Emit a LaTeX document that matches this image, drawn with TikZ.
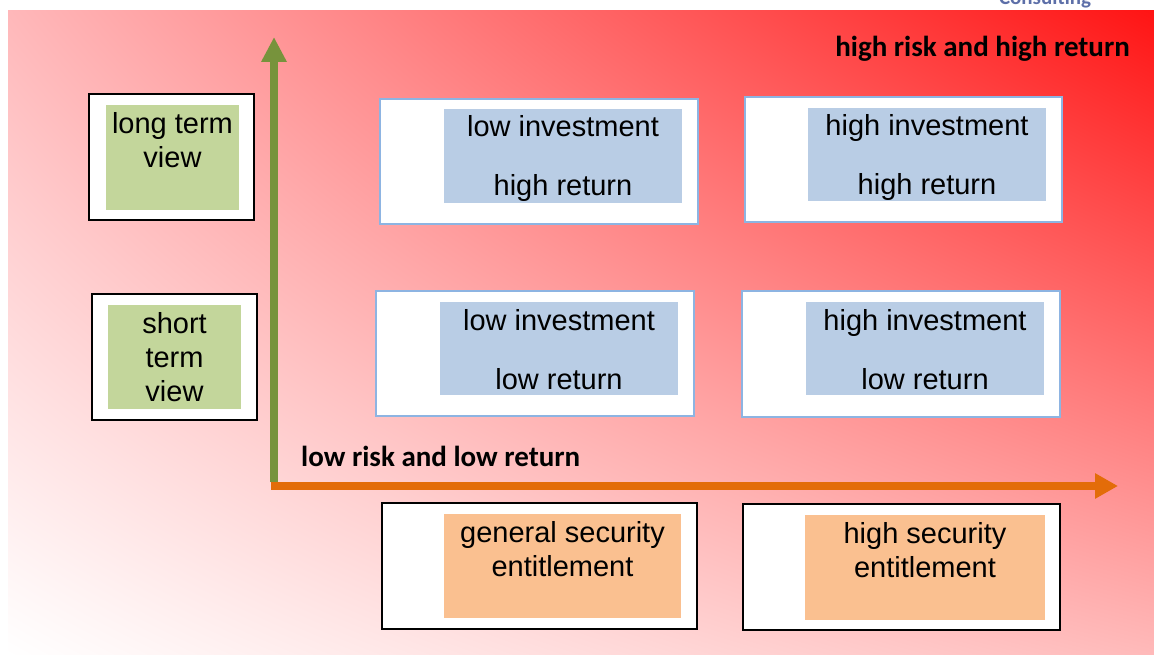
\documentclass[tikz,border=0pt]{standalone}
\usepackage{fontspec}
\setmainfont{Liberation Sans}
\newfontfamily\labelfont{Carlito}
\usetikzlibrary{arrows.meta,shadings}
\definecolor{axisgreen}{HTML}{77933C}
\definecolor{axisorange}{HTML}{E36C09}
\definecolor{viewfill}{HTML}{C3D69B}
\definecolor{investfill}{HTML}{B9CDE5}
\definecolor{investedge}{HTML}{8DB4E2}
\definecolor{securefill}{HTML}{FAC090}
\definecolor{brandblue}{HTML}{5D6FA8}
\definecolor{bgtl}{HTML}{FFB8BA}
\definecolor{bgtr}{HTML}{FF1414}
\definecolor{bgbr}{HTML}{FFBABA}
\begin{document}
\begin{tikzpicture}[x=1pt,y=-1pt,
  boxtext/.style={font=\fontsize{29}{34}\selectfont, align=center, inner sep=0pt, anchor=base},
  framebox/.style={draw=black, line width=2pt, fill=white, inner sep=0pt},
  bluebox/.style={draw=investedge, line width=2pt, fill=white, inner sep=0pt},
  fillbox/.style={inner sep=0pt, draw=none},
  axislabel/.style={font=\labelfont\bfseries\fontsize{29}{34}\selectfont, inner sep=0pt},
  greenaxis/.style={draw=axisgreen, line width=8pt, -{Triangle[length=25pt,width=24pt]}},
  orangeaxis/.style={draw=axisorange, line width=8pt, -{Triangle[length=23pt,width=24pt]}}]
\useasboundingbox (0,0) rectangle (1154,655);
\clip (0,0) rectangle (1154,655);

% page header word, mostly cut off at the top edge
\node[font=\labelfont\bfseries\fontsize{21}{24}\selectfont, text=brandblue, anchor=base, inner sep=0pt] (brand) at (1045,5) {Consulting};

% diagonal white-to-red backdrop
\shade[lower left=white, upper right=bgtr, upper left=bgtl, lower right=bgbr]
  (8,11) rectangle (1154,655);

% time-horizon boxes on the left (multi-line texts are placed by their last baseline)
\node[framebox, minimum width=165pt, minimum height=126pt] (longout) at (171.5,157) {};
\node[fillbox, fill=viewfill, minimum width=133pt, minimum height=105pt] (longin) at (172.5,157.5) {};
\node[boxtext] (longtxt) at (172.5,168) {long term\\view};

\node[framebox, minimum width=165pt, minimum height=126pt] (shortout) at (174.5,357) {};
\node[fillbox, fill=viewfill, minimum width=133pt, minimum height=104pt] (shortin) at (174.5,357) {};
\node[boxtext] (shorttxt) at (174.5,401) {short\\term\\view};

% investment / return quadrants
\node[bluebox, minimum width=318pt, minimum height=125pt] (q1out) at (539,161.5) {};
\node[fillbox, fill=investfill, minimum width=238pt, minimum height=94pt] (q1in) at (563,156) {};
\node[boxtext] (q1a) at (563,137) {low investment};
\node[boxtext] (q1b) at (563,196) {high return};

\node[bluebox, minimum width=317pt, minimum height=125pt] (q2out) at (903.5,159.5) {};
\node[fillbox, fill=investfill, minimum width=238pt, minimum height=93pt] (q2in) at (927,154.5) {};
\node[boxtext] (q2a) at (927,136) {high investment};
\node[boxtext] (q2b) at (927,195) {high return};

\node[bluebox, minimum width=318pt, minimum height=125pt] (q3out) at (535,353.5) {};
\node[fillbox, fill=investfill, minimum width=238pt, minimum height=93pt] (q3in) at (559,348.5) {};
\node[boxtext] (q3a) at (559,330) {low investment};
\node[boxtext] (q3b) at (559,389) {low return};

\node[bluebox, minimum width=318pt, minimum height=126pt] (q4out) at (901,354) {};
\node[fillbox, fill=investfill, minimum width=238pt, minimum height=93pt] (q4in) at (925,348.5) {};
\node[boxtext] (q4a) at (925,330) {high investment};
\node[boxtext] (q4b) at (925,389) {low return};

% security entitlement boxes below the axis
\node[framebox, minimum width=315pt, minimum height=126pt] (s1out) at (539.5,566) {};
\node[fillbox, fill=securefill, minimum width=237pt, minimum height=104pt] (s1in) at (562.5,566) {};
\node[boxtext] (s1txt) at (562.5,576) {general security\\entitlement};

\node[framebox, minimum width=317pt, minimum height=126pt] (s2out) at (901.5,567) {};
\node[fillbox, fill=securefill, minimum width=240pt, minimum height=105pt] (s2in) at (925,567.5) {};
\node[boxtext] (s2txt) at (925,577) {high security\\entitlement};

% axes
\coordinate (vbase) at (274,482);
\coordinate (vtip) at (274,37);
\coordinate (hbase) at (270.5,486);
\coordinate (htip) at (1118,486);
\draw[greenaxis] (vbase) -- (vtip);
\draw[orangeaxis] (hbase) -- (htip);

% corner labels
\node[axislabel, anchor=base east] (hilabel) at (1130,57) {high risk and high return};
\node[axislabel, anchor=base west] (lolabel) at (301,466) {low risk and low return};
\end{tikzpicture}
\end{document}
